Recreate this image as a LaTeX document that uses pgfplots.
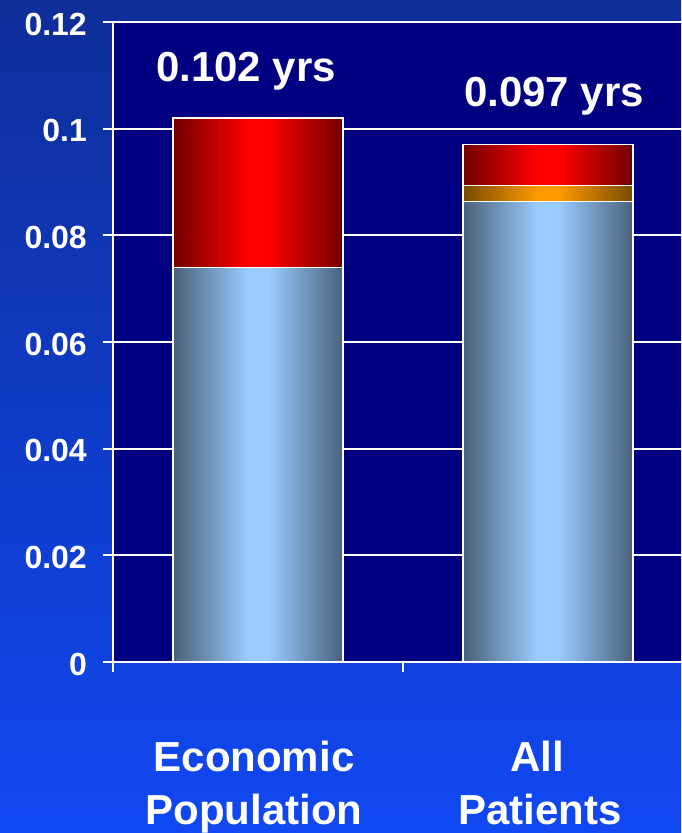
\documentclass[border=0pt]{standalone}
\usepackage{fontspec}
\setmainfont{Liberation Sans}
\usepackage{pgfplots}
\pgfplotsset{compat=1.18}

\definecolor{bgtop}{RGB}{14,46,152}
\definecolor{bgbot}{RGB}{16,72,242}
\definecolor{plotnavy}{RGB}{0,0,128}
\definecolor{blueedge}{RGB}{74,96,122}
\definecolor{bluemid}{RGB}{153,204,255}
\definecolor{rededge}{RGB}{112,0,0}
\definecolor{redmid}{RGB}{255,0,0}
\definecolor{orangeedge}{RGB}{120,75,0}
\definecolor{orangemid}{RGB}{255,153,0}

% cylinder-like bar shadings: dark at the sides, a broad light band in
% the middle (the bar spans 25bp..75bp of the 100bp shading)
\pgfdeclarehorizontalshading{bluebar}{100bp}{color(0bp)=(blueedge); color(25bp)=(blueedge);
  color(47bp)=(bluemid); color(53bp)=(bluemid); color(75bp)=(blueedge); color(100bp)=(blueedge)}
\pgfdeclarehorizontalshading{redbar}{100bp}{color(0bp)=(rededge); color(25bp)=(rededge);
  color(47bp)=(redmid); color(53bp)=(redmid); color(75bp)=(rededge); color(100bp)=(rededge)}
\pgfdeclarehorizontalshading{orangebar}{100bp}{color(0bp)=(orangeedge); color(25bp)=(orangeedge);
  color(47bp)=(orangemid); color(53bp)=(orangemid); color(75bp)=(orangeedge); color(100bp)=(orangeedge)}

% one shaded bar segment; each bar is its own plot so the shading
% runs across that bar only
\pgfplotsset{
  seg/.style={ybar, bar width=170pt, bar shift=0pt,
    draw=white, line width=1.5pt, shading=#1},
}

\begin{document}
\begin{tikzpicture}[x=1pt,y=1pt]
\useasboundingbox (0,0) rectangle (681,833);
\shade[top color=bgtop, bottom color=bgbot] (0,0) rectangle (681,833);
\begin{axis}[
  at={(113pt,171pt)}, anchor=south west,
  scale only axis, width=568pt, height=640pt,
  xmin=0, xmax=1.9586, ymin=0, ymax=0.12,
  axis background/.style={fill=plotnavy},
  axis lines=left,
  axis line style={white, line width=2.5pt, -},
  ytick={0,0.02,0.04,0.06,0.08,0.1,0.12},
  yticklabels={0,0.02,0.04,0.06,0.08,0.1,0.12},
  xtick={0,1}, xticklabels={,},
  ymajorgrids,
  grid style={white, line width=2pt},
  tick align=outside,
  major tick length=10pt,
  tick style={white, line width=2pt},
  yticklabel style={font=\fontsize{32}{32}\selectfont\bfseries, text=white,
    anchor=east, inner sep=0pt, xshift=-16pt, yshift=-2pt},
  clip=false,
]
% Economic Population: utilities 0.074 + 0.028 = 0.102 yrs
% (segments drawn back to front, each from the axis up to its cumulative top)
\addplot[seg=redbar]    coordinates {(0.5,0.102)};
\addplot[seg=bluebar]   coordinates {(0.5,0.074)};
% All Patients: 0.0863 + 0.0030 + 0.0077 = 0.097 yrs
\addplot[seg=redbar]    coordinates {(1.5,0.097)};
\addplot[seg=orangebar] coordinates {(1.5,0.0893)};
\addplot[seg=bluebar]   coordinates {(1.5,0.0863)};
\end{axis}

% totals above the bars
\node[anchor=base, text=white, font=\fontsize{42}{42}\selectfont\bfseries]
  at (246,751) {0.102 yrs};
\node[anchor=base, text=white, font=\fontsize{42}{42}\selectfont\bfseries]
  at (554,726) {0.097 yrs};

% category names
\begin{scope}[every node/.style={anchor=base, text=white,
    font=\fontsize{42}{42}\selectfont\bfseries}]
\node at (254,61) {Economic};
\node at (254,9) {Population};
\node at (537,61) {All};
\node at (540,9) {Patients};
\end{scope}
\end{tikzpicture}
\end{document}
